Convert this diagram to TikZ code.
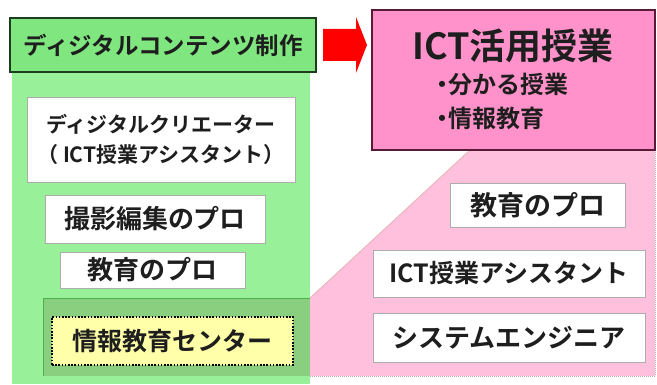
\documentclass[tikz,border=0pt]{standalone}
\usepackage{fontspec}
\setmainfont{Noto Sans CJK JP}[BoldFont={* Bold}]
\usetikzlibrary{calc}
\definecolor{hgreen}{RGB}{128,230,128}
\definecolor{agreen}{RGB}{152,240,152}
\definecolor{ogreen}{RGB}{138,206,128}
\definecolor{dgreen}{RGB}{30,60,30}
\definecolor{lpink}{RGB}{255,192,222}
\definecolor{ipink}{RGB}{255,146,202}
\definecolor{maroon}{RGB}{90,25,55}
\definecolor{lyellow}{RGB}{255,255,170}
\definecolor{txt}{RGB}{30,30,30}
\tikzset{
  fs/.style={font=\bfseries\fontsize{#1}{#1}\selectfont},
  wbox/.style={draw=gray!65, line width=0.9pt, fill=white, inner sep=0pt, text=txt, align=center},
}
\begin{document}
\begin{tikzpicture}[x=1pt,y=-1pt]
\useasboundingbox (0,0) rectangle (657,385);
% green area
\fill[agreen] (12,70) rectangle (310,384);
% pink area
\fill[lpink] (310,298) -- (470,150) -- (655,150) -- (655,376) -- (310,376) -- cycle;
\draw[pink!80!gray, line width=0.8pt] (310,298) -- (470,150);
\draw[gray!60, line width=1pt, dash pattern=on 1pt off 1pt] (655,150) -- (655,376) -- (310,376);
% overlap band
\fill[ogreen] (43,298) rectangle (310,376);
\draw[green!40!gray, line width=0.8pt] (43,376) -- (43,298) -- (310,298);
% heading
\node[draw=dgreen, line width=2pt, fill=hgreen, minimum width=306pt, minimum height=54pt, inner sep=0pt, text=txt, fs=23.5] (head) at (163,45) {ディジタルコンテンツ制作};
% ICT box
\node[draw=maroon, line width=2pt, fill=ipink, minimum width=283pt, minimum height=140pt, inner sep=0pt] (ict) at (513.5,80) {};
\node[fs=36, text=txt, inner sep=0pt] (ictt) at (513,46) {ICT活用授業};
\node[fs=24, text=txt, inner sep=0pt, anchor=west] (ict1) at (430,84) {・\hspace{-6pt}分かる授業};
\node[fs=24, text=txt, inner sep=0pt, anchor=west] (ict2) at (430,118) {・\hspace{-6pt}情報教育};
% arrow
\fill[red] ($(head.east)+(6,-16)$) -- ($(head.east)+(39,-16)$) -- ($(head.east)+(39,-28)$) -- ($(ict.west |- head.east)+(-4,0)$) -- ($(head.east)+(39,28)$) -- ($(head.east)+(39,16)$) -- ($(head.east)+(6,16)$) -- cycle;
% green boxes
\node[wbox, minimum width=268pt, minimum height=85pt, fs=21] (creator) at (161,139.5) {ディジタルクリエーター\\[9pt]（ ICT授業アシスタント）};
\node[wbox, minimum width=220pt, minimum height=48pt, fs=26] (satsu) at (155,219) {撮影編集のプロ};
\node[wbox, minimum width=185pt, minimum height=36pt, fs=26] (kyo1) at (152.5,270) {教育のプロ};
\node[draw=black, line width=2.6pt, dash pattern=on 1.6pt off 1.6pt, fill=lyellow, minimum width=241pt, minimum height=48pt, inner sep=0pt, text=txt, fs=25] (center) at (172.5,341) {情報教育センター};
% pink boxes
\node[wbox, minimum width=175pt, minimum height=44pt, fs=27] (kyo2) at (537.5,205) {教育のプロ};
\node[wbox, minimum width=272pt, minimum height=47pt, fs=25] (asst) at (509,273.5) {ICT授業アシスタント};
\node[wbox, minimum width=272pt, minimum height=49pt, fs=26] (se) at (509,337.5) {システムエンジニア};
\end{tikzpicture}
\end{document}
